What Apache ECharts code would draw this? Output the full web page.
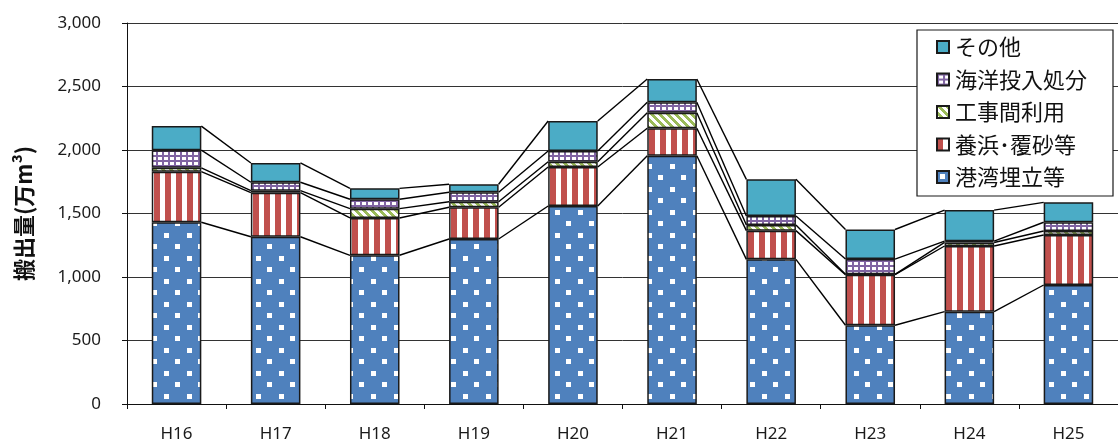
<!DOCTYPE html>
<html>
<head>
<meta charset="utf-8">
<script src="https://cdn.jsdelivr.net/npm/echarts@6/dist/echarts.min.js"></script>
<style>
  html, body { margin: 0; padding: 0; background: #fff; }
  #chart { width: 1118px; height: 443px; }
</style>
</head>
<body>
<div id="chart"></div>
<script>
// 年度別 搬出量（万m³）
const years = ['H16', 'H17', 'H18', 'H19', 'H20', 'H21', 'H22', 'H23', 'H24', 'H25'];
const reclamation = [1431, 1317, 1171, 1299, 1559, 1955, 1139, 620, 727, 937];   // 港湾埋立等
const beach       = [398, 347, 294, 250, 307, 216, 226, 398, 517, 394];         // 養浜･覆砂等
const construction= [31, 16, 73, 44, 42, 123, 44, 3, 28, 31];                   // 工事間利用
const oceanDump   = [139, 66, 74, 74, 84, 82, 71, 120, 10, 69];                 // 海洋投入処分
const others      = [189, 152, 86, 63, 236, 183, 289, 233, 245, 157];           // その他
const yTicks = [0, 500, 1000, 1500, 2000, 2500, 3000];

const seriesNames = ['港湾埋立等', '養浜･覆砂等', '工事間利用', '海洋投入処分', 'その他'];
const seriesValues = [reclamation, beach, construction, oceanDump, others];

// ---- fill patterns ----
function makeTile(w, h, draw) {
  const c = document.createElement('canvas');
  c.width = w; c.height = h;
  draw(c.getContext('2d'), w, h);
  return c;
}
const dotTile = makeTile(23, 23, (g, w, h) => {
  g.fillStyle = '#4F81BD'; g.fillRect(0, 0, w, h);
  g.fillStyle = '#ffffff';
  g.fillRect(3, 3, 5, 5);
  g.fillRect(14, 14, 5, 5);
});
const stripeTile = makeTile(11, 4, (g, w, h) => {
  g.fillStyle = '#ffffff'; g.fillRect(0, 0, w, h);
  g.fillStyle = '#C0504D'; g.fillRect(0, 0, 6, h);
});
const diagTile = makeTile(8, 8, (g, w, h) => {
  for (let y = 0; y < h; y++) {
    for (let x = 0; x < w; x++) {
      g.fillStyle = (((x - y) % 8 + 8) % 8) < 4 ? '#9BBB59' : '#ffffff';
      g.fillRect(x, y, 1, 1);
    }
  }
});
const gridTile = makeTile(6, 5, (g, w, h) => {
  g.fillStyle = '#ffffff'; g.fillRect(0, 0, w, h);
  g.fillStyle = '#8064A2';
  g.fillRect(0, 0, 2, h);
  g.fillRect(0, 0, w, 2);
});
const fills = [
  { image: dotTile, repeat: 'repeat' },
  { image: stripeTile, repeat: 'repeat' },
  { image: diagTile, repeat: 'repeat' },
  { image: gridTile, repeat: 'repeat' },
  '#4BACC6'
];

// cumulative tops of each stacked layer
const cumulative = [];
seriesValues.forEach((vals, k) => {
  cumulative.push(vals.map((v, i) => v + (k > 0 ? cumulative[k - 1][i] : 0)));
});

// series lines joining layer tops of neighbouring bars
const linkData = [];
cumulative.forEach(level => {
  for (let i = 0; i < years.length - 1; i++) {
    linkData.push([i, level[i], level[i + 1]]);
  }
});

const barSeries = seriesNames.map((name, k) => ({
  name: name,
  type: 'bar',
  stack: 'total',
  barWidth: '50%',
  data: seriesValues[k],
  itemStyle: { color: fills[k], borderColor: '#1a1a1a', borderWidth: 1.5 },
  emphasis: { disabled: true }
}));

const linkSeries = {
  type: 'custom',
  silent: true,
  z: 3,
  data: linkData,
  encode: { x: 0, y: [1, 2] },
  renderItem: function (params, api) {
    const i = api.value(0);
    const band = api.size([1, 0])[0];
    const half = band * 0.25;
    const p0 = api.coord([i, api.value(1)]);
    const p1 = api.coord([i + 1, api.value(2)]);
    return {
      type: 'line',
      shape: { x1: p0[0] + half, y1: p0[1], x2: p1[0] - half, y2: p1[1] },
      style: { stroke: '#000', lineWidth: 1.4 }
    };
  }
};

const chart = echarts.init(document.getElementById('chart'), null, { renderer: 'canvas' });
chart.setOption({
  animation: false,
  backgroundColor: '#ffffff',
  textStyle: { fontFamily: '"Noto Sans", "Noto Sans CJK JP", sans-serif' },
  grid: { left: 127, right: -9, top: 23, bottom: 39, containLabel: false },
  legend: {
    orient: 'vertical',
    left: 917,
    top: 30,
    data: seriesNames.slice().reverse(),
    itemWidth: 12,
    itemHeight: 12,
    itemGap: 10.5,
    padding: [6, 26, 8, 19],
    backgroundColor: '#ffffff',
    borderColor: '#1a1a1a',
    borderWidth: 1.2,
    borderRadius: 0,
    selectedMode: false,
    icon: 'rect',
    textStyle: {
      fontFamily: '"Noto Sans CJK JP", sans-serif',
      fontSize: 22,
      lineHeight: 22,
      color: '#111',
      padding: [0, 0, 0, 1]
    }
  },
  xAxis: {
    type: 'category',
    data: years,
    axisLine: { lineStyle: { color: '#111', width: 1 } },
    axisTick: { show: true, length: 5, alignWithLabel: false, lineStyle: { color: '#111' } },
    axisLabel: { fontSize: 17, color: '#1a1a1a', margin: 22 }
  },
  yAxis: {
    type: 'value',
    min: yTicks[0],
    max: yTicks[yTicks.length - 1],
    interval: yTicks[1] - yTicks[0],
    name: '搬出量(万m³)',
    nameLocation: 'middle',
    nameRotate: 90,
    nameGap: 92,
    nameTextStyle: {
      fontFamily: '"Noto Sans CJK JP", sans-serif',
      fontSize: 22,
      fontWeight: 'bold',
      color: '#111'
    },
    axisLine: { show: true, lineStyle: { color: '#111', width: 1 } },
    axisTick: { show: true, length: 5, lineStyle: { color: '#111' } },
    splitLine: { lineStyle: { color: '#333', width: 1 } },
    axisLabel: {
      fontSize: 17,
      color: '#1a1a1a',
      margin: 26,
      formatter: v => v.toLocaleString('en-US')
    }
  },
  series: barSeries.concat([linkSeries])
});
</script>
</body>
</html>
